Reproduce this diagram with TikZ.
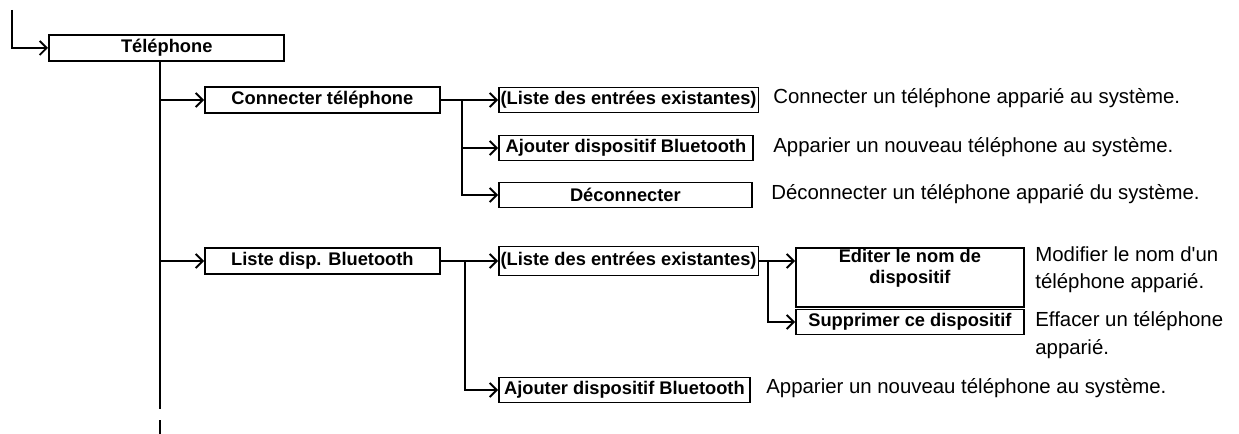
\documentclass[tikz,border=0pt]{standalone}
\usepackage{fontspec}
\setmainfont{Liberation Sans}
\usetikzlibrary{arrows.meta}

\tikzset{
  menubox/.style={draw, line width=1pt, inner sep=1pt, anchor=west, font=\fontsize{10.4}{12}\selectfont\bfseries},
  desc/.style={anchor=west, inner sep=0pt, align=left, font=\fontsize{11.6}{15.5}\selectfont},
  arr/.style={line width=1.1pt, -{Straight Barb[length=4pt,width=8pt,line width=1.1pt]}},
  ln/.style={line width=1.1pt}
}

\begin{document}
\begin{tikzpicture}[x=0.2mm, y=-0.2mm]
\useasboundingbox (0,0) rectangle (1239,434);

\node[menubox, line width=1.4pt, minimum width=47mm, minimum height=5.2mm] (tel) at (48,48) {Téléphone};
\node[menubox, minimum width=47mm, minimum height=5.2mm] (conn) at (204,100) {Connecter téléphone};
\node[menubox, minimum width=47mm, minimum height=5.2mm] (liste) at (204,261) {Liste disp. Bluetooth};

\node[menubox, minimum width=50.8mm, minimum height=5mm] (entA) at (498,100) {(Liste des entrées existantes)};
\node[menubox, minimum width=50.8mm, minimum height=5mm] (ajoutA) at (498,148) {Ajouter dispositif Bluetooth};
\node[menubox, minimum width=50.6mm, minimum height=5mm] (decon) at (498,195) {Déconnecter};

\node[menubox, minimum width=50.2mm, minimum height=5.8mm] (entB) at (498,261) {(Liste des entrées existantes)};
\node[menubox, minimum width=50.2mm, minimum height=5mm] (ajoutB) at (498,390) {Ajouter dispositif Bluetooth};

\node[menubox, anchor=north west, align=center, minimum width=45.6mm, minimum height=10.2mm] (edit) at (795,247) {Editer le nom de\\dispositif\\\mbox{}};
\node[menubox, minimum width=45.6mm, minimum height=5mm] (suppr) at (795,322) {Supprimer ce dispositif};

\node[desc] (dconn) at (773,98) {Connecter un téléphone apparié au système.};
\node[desc] (dajoutA) at (773,147) {Apparier un nouveau téléphone au système.};
\node[desc] (ddecon) at (771,194) {Déconnecter un téléphone apparié du système.};
\node[desc] (dedit) at (1035,270) {Modifier le nom d\textquotesingle un\\téléphone apparié.};
\node[desc] (dsuppr) at (1035,335) {Effacer un téléphone\\apparié.};
\node[desc] (dajoutB) at (766,388) {Apparier un nouveau téléphone au système.};

\coordinate (start) at (12,10);
\coordinate (trunk) at (160,61);
\coordinate (trunkend) at (160,409);
\coordinate (dashA) at (160,420);
\coordinate (dashB) at (160,434);
\coordinate (brA) at (462,100);
\coordinate (brB) at (465,261);
\coordinate (brC) at (768,261);

\draw[arr] (start) |- (tel.west);
\draw[ln] (trunk) -- (trunkend);
\draw[ln] (dashA) -- (dashB);
\draw[arr] (trunk |- conn.west) -- (conn.west);
\draw[arr] (trunk |- liste.west) -- (liste.west);

\draw[arr] (conn.east) -- (entA.west);
\draw[arr] (brA) |- (ajoutA.west);
\draw[arr] (brA) |- (decon.west);

\draw[arr] (liste.east) -- (entB.west);
\draw[arr] (brB) |- (ajoutB.west);

\draw[arr] (entB.east) -- (entB.east -| edit.west);
\draw[arr] (brC) |- (suppr.west);
\end{tikzpicture}
\end{document}
